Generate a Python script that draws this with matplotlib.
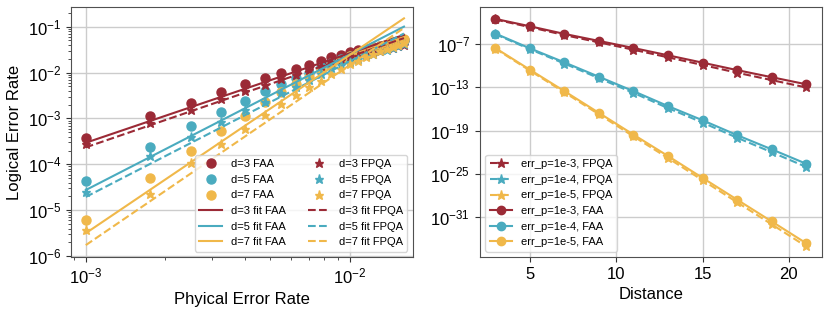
import numpy as np
import matplotlib
matplotlib.use('Agg')
from matplotlib import pyplot as plt

plt.rcParams['font.family'] = ['Liberation Sans', 'DejaVu Sans']
plt.rcParams['mathtext.default'] = 'regular'

# %% data: left panel (log10 of logical error rate)
p_phys = np.linspace(0.001, 0.016, 21)
faa_d3 = [-3.42, -2.94, -2.66, -2.43, -2.26, -2.13, -2.01, -1.93, -1.84, -1.75, -1.67,
          -1.62, -1.56, -1.52, -1.48, -1.45, -1.42, -1.39, -1.36, -1.33, -1.30]
faa_d5 = [-4.36, -3.62, -3.17, -2.86, -2.61, -2.41, -2.26, -2.13, -2.00, -1.89, -1.79,
          -1.71, -1.64, -1.58, -1.52, -1.47, -1.43, -1.39, -1.35, -1.32, -1.29]
faa_d7 = [-5.21, -4.29, -3.71, -3.27, -2.95, -2.65, -2.42, -2.24, -2.09, -1.94, -1.84,
          -1.73, -1.65, -1.58, -1.52, -1.47, -1.42, -1.38, -1.34, -1.31, -1.28]
fpqa_d3 = [-3.55, -3.09, -2.82, -2.57, -2.41, -2.28, -2.15, -2.06, -1.95, -1.86, -1.78,
           -1.73, -1.67, -1.63, -1.59, -1.56, -1.53, -1.49, -1.46, -1.43, -1.40]
fpqa_d5 = [-4.61, -3.82, -3.40, -3.08, -2.82, -2.64, -2.45, -2.32, -2.16, -2.03, -1.91,
           -1.84, -1.76, -1.70, -1.64, -1.59, -1.54, -1.50, -1.46, -1.42, -1.38]
fpqa_d7 = [-5.44, -4.65, -3.98, -3.56, -3.22, -2.93, -2.69, -2.49, -2.32, -2.18, -2.04,
           -1.93, -1.82, -1.74, -1.66, -1.60, -1.54, -1.49, -1.44, -1.40, -1.36]
# fit lines, log10 value at first and last p
fit_faa = {3: [-3.53, -1.18], 5: [-4.56, -1.00], 7: [-5.50, -0.82]}
fit_fpqa = {3: [-3.63, -1.25], 5: [-4.71, -1.15], 7: [-5.76, -1.03]}

# %% data: right panel (log10 of logical error rate vs distance)
distance = [3, 5, 7, 9, 11, 13, 15, 17, 19, 21]
err_labels = ['1e-3', '1e-4', '1e-5']
dist_faa = [
    [-3.53, -4.55, -5.61, -6.58, -7.56, -8.57, -9.59, -10.62, -11.60, -12.58],
    [-5.56, -7.60, -9.55, -11.54, -13.53, -15.60, -17.56, -19.62, -21.58, -23.58],
    [-7.56, -10.56, -13.53, -16.54, -19.55, -22.51, -25.54, -28.55, -31.56, -34.58],
]
dist_fpqa = [
    [-3.61, -4.67, -5.77, -6.78, -7.80, -8.85, -9.91, -10.98, -12.00, -13.02],
    [-5.64, -7.72, -9.71, -11.74, -13.77, -15.88, -17.88, -19.98, -21.98, -24.02],
    [-7.64, -10.68, -13.69, -16.74, -19.79, -22.79, -25.86, -28.91, -31.96, -35.02],
]

colors = ['#9b2a36', '#4aabbf', '#f0b84a']
spine_col = '#505050'
grid_col = '#cccccc'

fig = plt.figure(figsize=(8.3, 3.09), dpi=100)
ax1 = fig.add_axes([0.0855, 0.168, 0.412, 0.809])
ax2 = fig.add_axes([0.578, 0.168, 0.412, 0.809])

# %% left panel
faa = [faa_d3, faa_d5, faa_d7]
fpqa = [fpqa_d3, fpqa_d5, fpqa_d7]
h_faa, h_fpqa, h_fit_faa, h_fit_fpqa = [], [], [], []
for i, d in enumerate([3, 5, 7]):
    h, = ax1.plot(p_phys, 10 ** np.array(faa[i]), 'o', color=colors[i], ms=6.5,
                  label='d={} FAA'.format(d), zorder=3)
    h_faa.append(h)
for i, d in enumerate([3, 5, 7]):
    h, = ax1.plot(p_phys, 10 ** np.array(fpqa[i]), '*', color=colors[i], ms=6.5,
                  label='d={} FPQA'.format(d), zorder=3)
    h_fpqa.append(h)
p_ends = [p_phys[0], p_phys[-1]]
for i, d in enumerate([3, 5, 7]):
    h, = ax1.plot(p_ends, 10 ** np.array(fit_faa[d]), '-', color=colors[i], lw=1.5,
                  label='d={} fit FAA'.format(d), zorder=4)
    h_fit_faa.append(h)
    h, = ax1.plot(p_ends, 10 ** np.array(fit_fpqa[d]), '--', color=colors[i], lw=1.5,
                  label='d={} fit FPQA'.format(d), zorder=4)
    h_fit_fpqa.append(h)

ax1.set_xscale('log')
ax1.set_yscale('log')
ax1.set_xlim(10 ** -3.056, 10 ** -1.762)
ax1.set_ylim(10 ** -6.02, 10 ** -0.575)
ax1.set_xlabel('Phyical Error Rate', fontsize=12)
ax1.set_ylabel('Logical Error Rate', fontsize=12)
handles = h_faa + h_fit_faa + h_fpqa + h_fit_fpqa
ax1.legend(handles=handles, ncol=2, loc='lower right', fontsize=8)

# %% right panel
for i, lab in enumerate(err_labels):
    ax2.plot(distance, 10 ** np.array(dist_fpqa[i]), '--*', color=colors[i], ms=6.5,
             lw=1.5, label='err_p={}, FPQA'.format(lab))
for i, lab in enumerate(err_labels):
    ax2.plot(distance, 10 ** np.array(dist_faa[i]), '-o', color=colors[i], ms=6,
             lw=1.5, label='err_p={}, FAA'.format(lab))
ax2.set_yscale('log')
ax2.set_xlim(2.1, 21.9)
ax2.set_ylim(10 ** -36.5, 10 ** -1.9)
ax2.set_yticks([1e-7, 1e-13, 1e-19, 1e-25, 1e-31])
ax2.yaxis.set_minor_locator(matplotlib.ticker.NullLocator())
ax2.set_xticks([5, 10, 15, 20])
ax2.set_xlabel('Distance', fontsize=12)
ax2.legend(loc='lower left', fontsize=8)

for ax in (ax1, ax2):
    ax.grid(True, which='major', color=grid_col, lw=1.0)
    ax.set_axisbelow(True)
    ax.tick_params(labelsize=12, colors='#333333', labelcolor='black')
    ax.tick_params(which='minor', colors='#333333')
    for s in ax.spines.values():
        s.set_color(spine_col)

fig.savefig('out.png', dpi=100)
